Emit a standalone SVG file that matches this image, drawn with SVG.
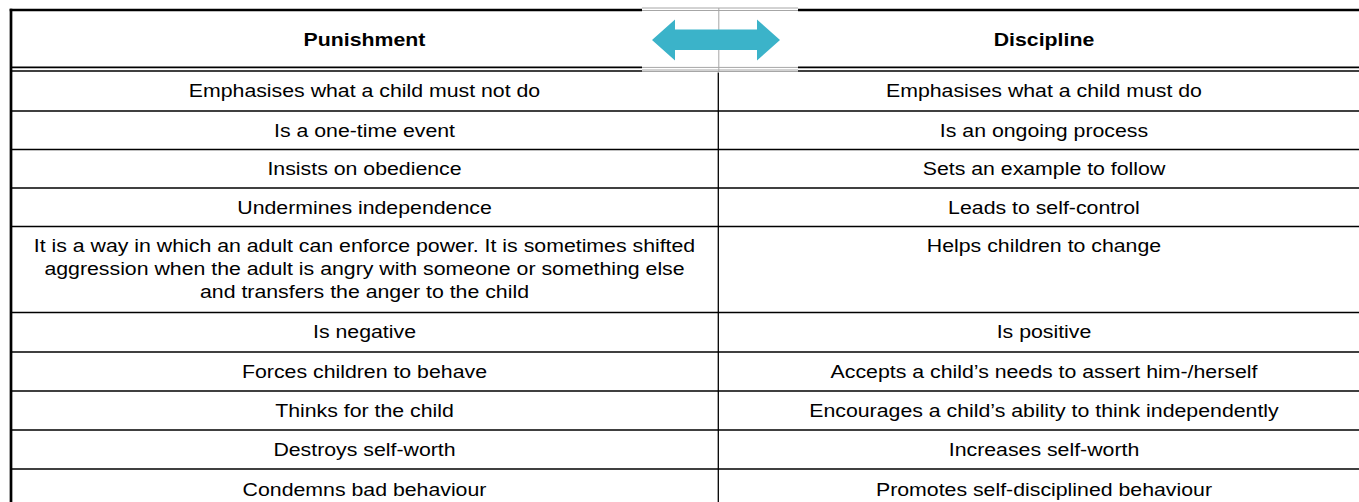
<svg xmlns="http://www.w3.org/2000/svg" width="1359" height="502" viewBox="0 0 1359 502">
<style>
.rule{stroke:#000;stroke-width:1.3;fill:none}
.thick{stroke:#000;stroke-width:2.7;fill:none}
.grey{stroke:#a6a6a6;stroke-width:1;fill:none}
text{font-family:"Liberation Sans",Arial,sans-serif;font-size:18.9px;fill:#000;text-anchor:middle}
.hd{font-weight:bold}
</style>
<rect x="0" y="0" width="1359" height="502" fill="#fff"/>
<g id="grid">
<line class="thick" x1="9.7" y1="10" x2="1359" y2="10"/>
<line class="thick" x1="11" y1="8.7" x2="11" y2="502"/>
<line x1="11" y1="67.4" x2="1359" y2="67.4" stroke="#000" stroke-width="1.7"/>
<line x1="11" y1="71" x2="1359" y2="71" stroke="#000" stroke-width="1.7"/>
<line class="rule" x1="718.3" y1="72" x2="718.3" y2="502"/>
<line class="rule" x1="11" y1="111" x2="1359" y2="111"/>
<line class="rule" x1="11" y1="149.5" x2="1359" y2="149.5"/>
<line class="rule" x1="11" y1="188" x2="1359" y2="188"/>
<line class="rule" x1="11" y1="226.5" x2="1359" y2="226.5"/>
<line class="rule" x1="11" y1="312.5" x2="1359" y2="312.5"/>
<line class="rule" x1="11" y1="352" x2="1359" y2="352"/>
<line class="rule" x1="11" y1="391" x2="1359" y2="391"/>
<line class="rule" x1="11" y1="430" x2="1359" y2="430"/>
<line class="rule" x1="11" y1="469" x2="1359" y2="469"/>
</g>
<g id="arrow-box">
<rect x="642" y="7.5" width="156" height="65" fill="#fff"/>
<line class="grey" x1="642" y1="8" x2="798" y2="8"/>
<line class="grey" x1="642" y1="10.5" x2="798" y2="10.5"/>
<line class="grey" x1="642" y1="67.4" x2="798" y2="67.4"/>
<line class="grey" x1="642" y1="70" x2="798" y2="70"/>
<line class="grey" x1="642" y1="71.5" x2="798" y2="71.5"/>
<line class="grey" x1="718.8" y1="8" x2="718.8" y2="72"/>
<polygon id="double-arrow" points="652,40 675,19.5 675,29.5 757,29.5 757,19.5 780,40 757,60.5 757,50 675,50 675,60.5" fill="#3BB3C9"/>
</g>
<g id="texts" transform="scale(1.127 1)">
<g id="header">
<text class="hd" x="323.43" y="46.5">Punishment</text>
<text class="hd" x="926.35" y="46.5">Discipline</text>
</g>
<g id="punishment-col">
<text x="323.43" y="97">Emphasises what a child must not do</text>
<text x="323.43" y="137">Is a one-time event</text>
<text x="323.43" y="175.5">Insists on obedience</text>
<text x="323.43" y="214">Undermines independence</text>
<text x="323.43" y="252.5">It is a way in which an adult can enforce power. It is sometimes shifted</text>
<text x="323.43" y="275.5">aggression when the adult is angry with someone or something else</text>
<text x="323.43" y="298.5">and transfers the anger to the child</text>
<text x="323.43" y="338.5">Is negative</text>
<text x="323.43" y="378">Forces children to behave</text>
<text x="323.43" y="417">Thinks for the child</text>
<text x="323.43" y="456">Destroys self-worth</text>
<text x="323.43" y="496">Condemns bad behaviour</text>
</g>
<g id="discipline-col">
<text x="926.35" y="97">Emphasises what a child must do</text>
<text x="926.35" y="137">Is an ongoing process</text>
<text x="926.35" y="175.5">Sets an example to follow</text>
<text x="926.35" y="214">Leads to self-control</text>
<text x="926.35" y="252.5">Helps children to change</text>
<text x="926.35" y="338.5">Is positive</text>
<text x="926.35" y="378">Accepts a child’s needs to assert him-/herself</text>
<text x="926.35" y="417">Encourages a child’s ability to think independently</text>
<text x="926.35" y="456">Increases self-worth</text>
<text x="926.35" y="496">Promotes self-disciplined behaviour</text>
</g>
</g>
</svg>
